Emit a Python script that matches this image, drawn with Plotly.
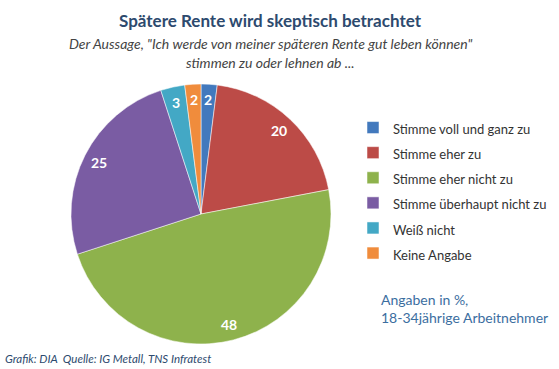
import math
import plotly.graph_objects as go

labels = ["Stimme voll und ganz zu", "Stimme eher zu", "Stimme eher nicht zu",
          "Stimme überhaupt nicht zu", "Weiß nicht", "Keine Angabe"]
values = [2, 20, 48, 25, 3, 2]
colors = ["#4279BD", "#BC4B47", "#8EB24C", "#7A5CA3", "#43A8C5", "#F08C3C"]

W, H = 559, 369
FONT = "Lato"

# pie domain (paper fractions)
dom_x = [71 / W, 331 / W]
dom_y = [1 - 344 / H, 1 - 84 / H]

fig = go.Figure(go.Pie(
    labels=[f"<span style='font-size:13px'>{l}</span>" for l in labels],
    values=values,
    sort=False,
    direction="clockwise",
    rotation=0,
    marker=dict(colors=colors, line=dict(color="rgba(255,255,255,0.5)", width=1)),
    textinfo="none",
    domain=dict(x=dom_x, y=dom_y),
    hoverinfo="label+value",
))

# value labels placed along each slice's mid-angle, derived from the data
total = sum(values)
cx = (dom_x[0] + dom_x[1]) / 2 * W
cy = (1 - (dom_y[0] + dom_y[1]) / 2) * H
R = min((dom_x[1] - dom_x[0]) * W, (dom_y[1] - dom_y[0]) * H) / 2
LABEL_R = 0.88
annos = []
cum = 0
for v in values:
    mid = (cum + v / 2) / total * 2 * math.pi
    cum += v
    px = cx + LABEL_R * R * math.sin(mid)
    py = cy - LABEL_R * R * math.cos(mid)
    annos.append(dict(text=str(v), x=px / W, y=1 - py / H, xref="paper", yref="paper",
                      showarrow=False, xanchor="center", yanchor="middle",
                      font=dict(family=FONT, size=14, color="white", weight=700)))

annos += [
    dict(text="<b>Spätere Rente wird skeptisch betrachtet</b>", x=270 / W, y=1 - 21 / H,
         xref="paper", yref="paper", showarrow=False, xanchor="center", yanchor="middle",
         font=dict(family=FONT, size=17, color="#2D4A6E")),
    dict(text="<i>Der Aussage, \"Ich werde von meiner späteren Rente gut leben können\"</i>",
         x=270 / W, y=1 - 44 / H, xref="paper", yref="paper", showarrow=False,
         xanchor="center", yanchor="middle",
         font=dict(family=FONT, size=14, color="#444444")),
    dict(text="<i>stimmen zu oder lehnen ab ...</i>",
         x=270 / W, y=1 - 62 / H, xref="paper", yref="paper", showarrow=False,
         xanchor="center", yanchor="middle",
         font=dict(family=FONT, size=14, color="#444444")),
    dict(text="Angaben in %,<br>18-34jährige Arbeitnehmer",
         x=379 / W, y=1 - 308 / H, xref="paper", yref="paper", showarrow=False,
         xanchor="left", yanchor="middle", align="left",
         font=dict(family=FONT, size=14, color="#3C6E9F")),
    dict(text="<i>Grafik: DIA  Quelle: IG Metall, TNS Infratest</i>",
         x=3 / W, y=1 - 358 / H, xref="paper", yref="paper", showarrow=False,
         xanchor="left", yanchor="middle",
         font=dict(family=FONT, size=11.5, color="#2D4A6E")),
]

fig.update_layout(
    width=W, height=H,
    margin=dict(l=0, r=0, t=0, b=0),
    paper_bgcolor="white",
    plot_bgcolor="white",
    font=dict(family=FONT, color="#333333"),
    showlegend=True,
    legend=dict(
        x=353 / W, y=1 - 110 / H, xanchor="left", yanchor="top",
        font=dict(family=FONT, size=17, color="#333333"),
        bgcolor="rgba(0,0,0,0)",
    ),
    annotations=annos,
)

fig.write_html("out.html", config={"displayModeBar": False},
               post_script="document.body.style.margin='0';")
